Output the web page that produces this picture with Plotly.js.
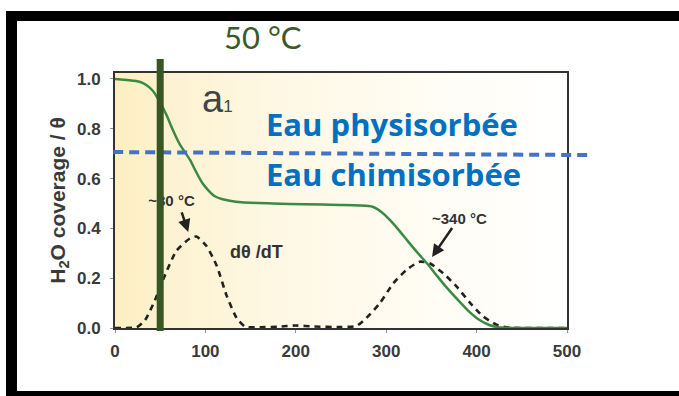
<!DOCTYPE html>
<html>
<head>
<meta charset="utf-8">
<script src="https://cdn.plot.ly/plotly-3.0.1.min.js"></script>
<style>
  html, body { margin: 0; padding: 0; background: #ffffff; }
  #wrap { position: relative; width: 679px; height: 396px; overflow: hidden; background: #ffffff; }
  #bg { position: absolute; left: 115px; top: 73px; width: 452px; height: 255px;
        background: linear-gradient(to right, #fcefc3 0%, #fdf3d4 15%, #fef8e6 40%, #fffcf3 68%, #ffffff 100%); }
  #chart { position: absolute; left: 0; top: 0; width: 679px; height: 396px; }
  .bar { position: absolute; background: #000; z-index: 10; }
</style>
</head>
<body>
<div id="wrap">
  <div id="bg"></div>
  <div id="chart"></div>
  <div class="bar" style="left:6px; top:11px; width:673px; height:10px;"></div>
  <div class="bar" style="left:6px; top:11px; width:11px; height:385px;"></div>
  <div class="bar" style="left:6px; top:391px; width:673px; height:5px;"></div>
</div>
<script>
// ---- data ----
const tempCoverage = [0, 10, 20, 28, 35, 42, 50, 57, 64, 72, 83, 90, 97, 104, 110, 118, 127, 140, 175, 210, 249, 270, 285, 295, 304, 313, 323, 334, 345, 355, 366, 378, 390, 402, 414, 424, 440, 470, 500];
const coverage = [1.0, 0.997, 0.993, 0.988, 0.975, 0.952, 0.905, 0.855, 0.795, 0.735, 0.675, 0.625, 0.58, 0.55, 0.53, 0.518, 0.511, 0.505, 0.5, 0.497, 0.494, 0.492, 0.487, 0.465, 0.434, 0.397, 0.353, 0.305, 0.26, 0.215, 0.166, 0.118, 0.072, 0.035, 0.012, 0.003, 0, 0, 0];

const tempDeriv = [0, 10, 24, 33, 44, 55, 68, 83, 90, 101, 112.5, 123.5, 134.6, 144, 160, 180, 200, 220, 250, 267, 278, 293, 308, 322.6, 337, 348, 363, 378, 393, 407, 422, 433, 450, 475, 500];
const dThetadT = [0, 0, 0.003, 0.03, 0.11, 0.21, 0.31, 0.36, 0.367, 0.33, 0.25, 0.13, 0.04, 0.005, 0.003, 0.005, 0.01, 0.006, 0.004, 0.008, 0.04, 0.10, 0.18, 0.234, 0.266, 0.26, 0.22, 0.166, 0.10, 0.047, 0.013, 0.003, 0, 0, 0];

const xTicks = [0, 100, 200, 300, 400, 500];
const yTicks = [0.0, 0.2, 0.4, 0.6, 0.8, 1.0];
const xRange = [0, 500];
const yRange = [0, 1.024];

const markerTemp = 50;             // vertical marker line
const boundaryLevel = 0.7;         // physisorbed / chemisorbed boundary
const peakLabels = ['~80 °C', '~340 °C'];
const peakTemps = [81, 350.7];
const peakValues = [0.386, 0.285];

// ---- traces ----
const covTrace = {
  x: tempCoverage, y: coverage, mode: 'lines',
  line: {color: '#3a8a43', width: 2.5, shape: 'spline', smoothing: 0.6},
  showlegend: false
};

const derivTrace = {
  x: tempDeriv, y: dThetadT, mode: 'lines',
  line: {color: '#222222', width: 2.6, dash: '6px,5px', shape: 'spline', smoothing: 0.6},
  showlegend: false
};

const lowLabelTrace = {
  x: [62.5], y: [0.507], mode: 'text', text: [peakLabels[0]],
  textfont: {family: 'Liberation Sans, Arial, sans-serif', size: 15, color: '#333333', weight: 'bold'},
  textposition: 'middle center', hoverinfo: 'skip', showlegend: false
};

const tickFont = {family: 'Liberation Sans, Arial, sans-serif', size: 17, color: '#3a3a3a', weight: 'bold'};
const markerPaperX = (markerTemp - xRange[0]) / (xRange[1] - xRange[0]);

const layout = {
  width: 679, height: 396,
  margin: {l: 115, r: 112, t: 73, b: 68, pad: 0},
  paper_bgcolor: 'rgba(0,0,0,0)', plot_bgcolor: 'rgba(0,0,0,0)',
  showlegend: false,
  xaxis: {
    range: xRange, tickvals: xTicks, ticktext: xTicks.map(String),
    showgrid: false, zeroline: false,
    showline: true, linecolor: '#333333', linewidth: 2, mirror: true,
    ticks: 'outside', ticklen: 3, tickcolor: '#999999', tickwidth: 1,
    ticklabelstandoff: 4,
    tickfont: tickFont
  },
  yaxis: {
    range: yRange, tickvals: yTicks, ticktext: yTicks.map(v => v.toFixed(1)),
    showgrid: false, zeroline: false,
    showline: true, linecolor: '#333333', linewidth: 2, mirror: true,
    ticks: 'outside', ticklen: 3, tickcolor: '#999999', tickwidth: 1,
    ticklabelstandoff: 6,
    tickfont: tickFont,
    title: {text: 'H<sub>2</sub>O coverage / θ', standoff: 6,
      font: {family: 'Liberation Sans, Arial, sans-serif', size: 21, color: '#3a3a3a', weight: 'bold'}}
  },
  shapes: [
    {type: 'line', xref: 'paper', yref: 'paper', x0: -0.004, x1: 1.0575, y0: 0.690, y1: 0.678,
     line: {color: '#4472c4', width: 4, dash: '10px,6px'}, layer: 'above'},
    {type: 'line', xref: 'paper', yref: 'paper',
     x0: markerPaperX, x1: markerPaperX, y0: -0.012, y1: 1.055,
     line: {color: '#375623', width: 7}, layer: 'above'}
  ],
  annotations: [
    {xref: 'paper', yref: 'paper', x: markerPaperX + 0.227, y: 1.141,
     text: '50 °C', showarrow: false, xanchor: 'center', yanchor: 'middle',
     font: {family: 'Lato, Open Sans, sans-serif', size: 31, color: '#3b5a27'}},
    {xref: 'x', yref: 'y', x: 94, y: 0.92, text: 'a<span style="font-size:17px">1</span>',
     showarrow: false, xanchor: 'left', yanchor: 'middle',
     font: {family: 'Liberation Sans, Arial, sans-serif', size: 38, color: '#444444'}},
    {xref: 'x', yref: 'y', x: 165, y: boundaryLevel + 0.118, text: 'Eau physisorbée',
     showarrow: false, xanchor: 'left', yanchor: 'middle',
     font: {family: 'Open Sans, sans-serif', size: 31, color: '#0070c0', weight: 'bold'}},
    {xref: 'x', yref: 'y', x: 165, y: boundaryLevel - 0.083, text: 'Eau chimisorbée',
     showarrow: false, xanchor: 'left', yanchor: 'middle',
     font: {family: 'Open Sans, sans-serif', size: 31, color: '#0070c0', weight: 'bold'}},
    {xref: 'x', yref: 'y', x: 156, y: 0.306, text: 'dθ /dT', showarrow: false,
     font: {family: 'Liberation Sans, Arial, sans-serif', size: 18, color: '#333333', weight: 'bold'}},
    {xref: 'x', yref: 'y', x: peakTemps[0], y: peakValues[0], text: '', showarrow: true,
     ax: -7, ay: -21, arrowhead: 2, arrowsize: 1, arrowwidth: 2.5, arrowcolor: '#222222'},
    {xref: 'x', yref: 'y', x: peakTemps[1], y: peakValues[1], text: peakLabels[1], showarrow: true,
     ax: 27, ay: -39, arrowhead: 2, arrowsize: 1, arrowwidth: 2.5, arrowcolor: '#222222',
     font: {family: 'Liberation Sans, Arial, sans-serif', size: 15, color: '#333333', weight: 'bold'}}
  ]
};

Plotly.newPlot('chart', [derivTrace, covTrace, lowLabelTrace], layout, {staticPlot: true, displayModeBar: false});
</script>
</body>
</html>
